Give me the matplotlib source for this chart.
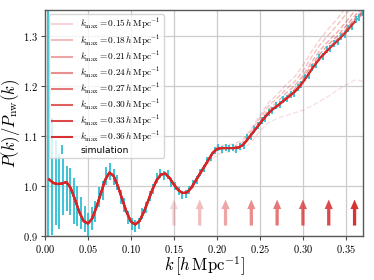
import numpy as np
import matplotlib.pyplot as plt
from matplotlib.ticker import FuncFormatter

plt.rcParams['mathtext.fontset'] = 'cm'
plt.rcParams['font.family'] = 'DejaVu Serif'

# simulation bins (fundamental mode spacing)
kf = 0.0042
sim_k = kf * np.arange(1, 89)
sim_p = [1.020, 1.020, 1.008, 0.990, 0.999, 0.995, 0.989, 0.970, 0.960, 0.947,
         0.934, 0.921, 0.935, 0.950, 0.978, 0.992, 1.020, 1.030, 1.018, 1.008,
         0.978, 0.962, 0.938, 0.925, 0.921, 0.926, 0.945, 0.958, 0.981, 0.995,
         1.016, 1.025, 1.022, 1.023, 1.008, 1.001, 0.990, 0.982, 0.985, 0.993,
         1.005, 1.012, 1.027, 1.035, 1.052, 1.058, 1.071, 1.078, 1.074, 1.078,
         1.075, 1.078, 1.074, 1.080, 1.082, 1.097, 1.100, 1.113, 1.121, 1.132,
         1.136, 1.148, 1.151, 1.161, 1.163, 1.173, 1.176, 1.184, 1.186, 1.198,
         1.203, 1.217, 1.222, 1.238, 1.244, 1.257, 1.260, 1.273, 1.276, 1.286,
         1.289, 1.300, 1.304, 1.316, 1.320, 1.333, 1.337, 1.348]
sim_err = [0.350, 0.117, 0.085, 0.075, 0.057, 0.045, 0.047, 0.046, 0.040, 0.032,
           0.026, 0.025, 0.023, 0.021, 0.020, 0.019, 0.018, 0.017, 0.016, 0.015,
           0.014, 0.014, 0.013, 0.012, 0.012, 0.011, 0.011, 0.011, 0.010, 0.010,
           0.010, 0.009, 0.009, 0.009, 0.009, 0.008, 0.008, 0.008, 0.008, 0.008,
           0.008, 0.008, 0.007, 0.007, 0.007, 0.007, 0.007, 0.007, 0.007, 0.007,
           0.007, 0.007, 0.007, 0.007, 0.007, 0.007, 0.007, 0.007, 0.007, 0.007,
           0.007, 0.007, 0.007, 0.007, 0.007, 0.007, 0.007, 0.007, 0.007, 0.007,
           0.007, 0.007, 0.007, 0.007, 0.007, 0.007, 0.007, 0.007, 0.007, 0.007,
           0.007, 0.007, 0.007, 0.007, 0.007, 0.007, 0.007, 0.007]

# best fit model (agrees for all kmax below their kmax)
model_k = np.arange(1, 75) * 0.005
model_p = [1.013, 1.006, 1.004, 1.005, 1.008, 0.996, 0.973, 0.948, 0.930, 0.925,
           0.935, 0.958, 0.985, 1.012, 1.027, 1.020, 0.999, 0.973, 0.948, 0.929,
           0.923, 0.930, 0.948, 0.970, 0.993, 1.012, 1.023, 1.025, 1.016, 1.003,
           0.992, 0.986, 0.987, 0.996, 1.010, 1.024, 1.038, 1.052, 1.066, 1.074,
           1.076, 1.076, 1.076, 1.076, 1.077, 1.082, 1.092, 1.103, 1.114, 1.125,
           1.136, 1.146, 1.154, 1.160, 1.167, 1.174, 1.181, 1.188, 1.197, 1.208,
           1.220, 1.233, 1.245, 1.256, 1.265, 1.274, 1.282, 1.290, 1.299, 1.308,
           1.318, 1.328, 1.337, 1.346]

kmax = [0.15, 0.18, 0.21, 0.24, 0.27, 0.30, 0.33, 0.36]

# extrapolation of each fit beyond its kmax (steps of 0.01)
extrap = [
    [1.003, 0.986, 0.994, 1.020, 1.045, 1.063, 1.068, 1.069, 1.074, 1.088, 1.110,
     1.127, 1.135, 1.141, 1.146, 1.152, 1.160, 1.170, 1.180, 1.192, 1.202, 1.212, 1.210],
    [1.024, 1.054, 1.079, 1.082, 1.084, 1.092, 1.115, 1.141, 1.167, 1.183, 1.202,
     1.218, 1.241, 1.269, 1.294, 1.315, 1.335, 1.357, 1.382, 1.400],
    [1.076, 1.080, 1.088, 1.111, 1.136, 1.160, 1.176, 1.193, 1.208, 1.230, 1.258,
     1.283, 1.303, 1.322, 1.344, 1.367, 1.387],
    [1.103, 1.128, 1.153, 1.168, 1.185, 1.200, 1.221, 1.248, 1.272, 1.291, 1.308,
     1.328, 1.350, 1.370],
    [1.160, 1.178, 1.193, 1.215, 1.241, 1.265, 1.284, 1.300, 1.320, 1.340, 1.359],
    [1.208, 1.234, 1.258, 1.277, 1.294, 1.313, 1.334, 1.352],
    [1.274, 1.291, 1.310, 1.331, 1.349],
    [1.328, 1.346],
]

alphas = np.linspace(0.2, 0.95, len(kmax))
red = '#d62728'

fig = plt.figure(figsize=(3.74, 2.80), dpi=100)
ax = fig.add_axes([0.12, 0.157, 0.851, 0.807])

ax.grid(True, color='#cccccc', linewidth=0.9, zorder=0)
ax.set_axisbelow(True)

for i, km in enumerate(kmax):
    ke = km + 0.01 * np.arange(len(extrap[i]))
    ax.plot(ke, extrap[i], color=red, alpha=alphas[i] * 0.7, lw=1.0, ls='--', zorder=2)
for i, km in enumerate(kmax):
    mk = model_k <= km + 1e-9
    ax.plot(model_k[mk], np.array(model_p)[mk], color=red, alpha=alphas[i], lw=1.5,
            zorder=3, label=r'$k_{\rm max} = %.2f\,h\,{\rm Mpc}^{-1}$' % km)
    ax.arrow(km, 0.921, 0, 0.052, width=0.0038, head_width=0.0095, head_length=0.019,
             length_includes_head=True, color=red, alpha=alphas[i], lw=0, zorder=3)

ax.errorbar(sim_k, sim_p, yerr=sim_err, fmt='none', ecolor='#2bbfd3', elinewidth=1.3,
            zorder=2.5, label='simulation')

ax.set_xlim(0, 0.37)
ax.set_ylim(0.9, 1.352)
ax.set_xticks([0.0, 0.05, 0.10, 0.15, 0.20, 0.25, 0.30, 0.35])
ax.set_yticks([0.9, 1.0, 1.1, 1.2, 1.3])
ax.xaxis.set_major_formatter(FuncFormatter(lambda v, p: r'$%.2f$' % v))
ax.yaxis.set_major_formatter(FuncFormatter(lambda v, p: r'$%.1f$' % v))
ax.tick_params(labelsize=7.5, length=3, color='0.3', pad=2)
for s in ax.spines.values():
    s.set_color('0.35')
    s.set_linewidth(1.0)

ax.set_xlabel(r'$k\,[h\,{\rm Mpc}^{-1}]$', fontsize=12, labelpad=0)
ax.set_ylabel(r'$P(k)/P_{\rm nw}(k)$', fontsize=12, labelpad=1)

leg = ax.legend(loc='upper left', framealpha=0.8, edgecolor='#cccccc',
                handlelength=2.2, handletextpad=0.85, borderaxespad=0.4,
                labelspacing=0.08, borderpad=0.35,
                prop={'family': 'DejaVu Sans', 'size': 6.7})

fig.savefig('out.png', dpi=100)
